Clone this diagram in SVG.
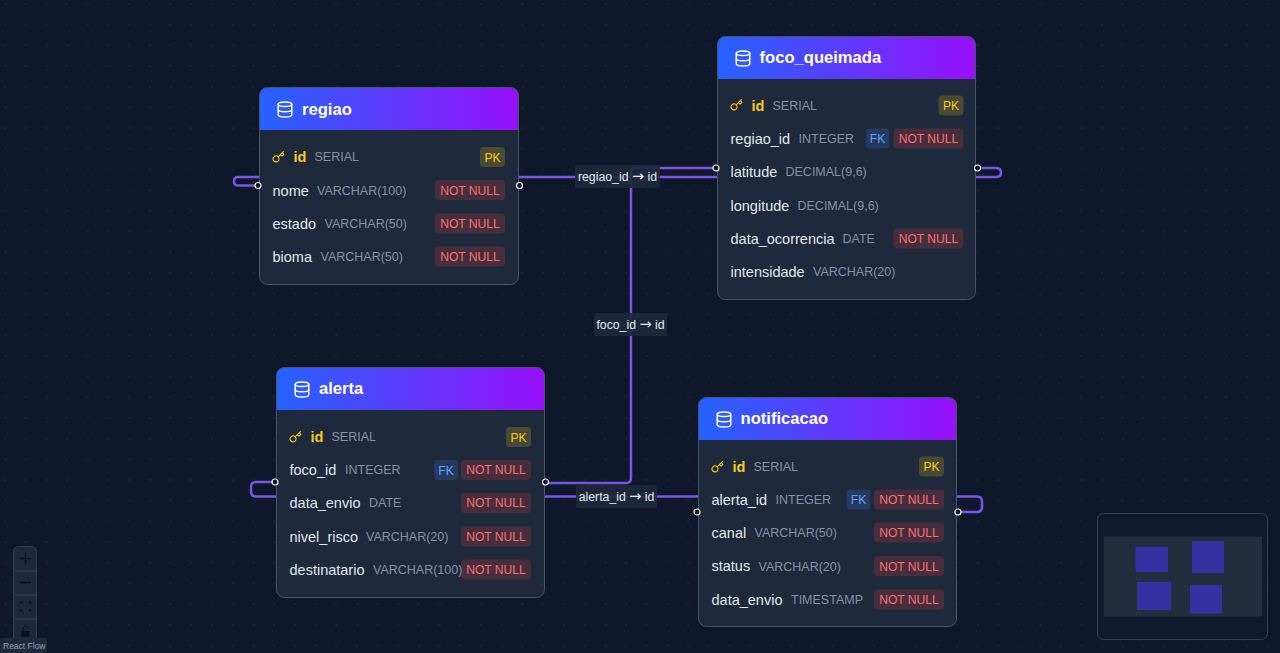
<svg xmlns="http://www.w3.org/2000/svg" width="1280" height="653" viewBox="0 0 1280 653">
<style>
text{font-family:"Liberation Sans",Arial,sans-serif}
.card{fill:#1e293b}
.edge{fill:none;stroke:#475569;stroke-width:1}
.title{font-size:16.6px;font-weight:700;fill:#fff}
.n{font-size:14.5px;fill:#e2e8f0}
.k{font-size:14.5px;font-weight:700;fill:#facc15}
.t{font-size:12.5px;fill:#8593a8}
.b{font-size:12.1px;text-anchor:middle}
.pk{fill:#facc15;fill-opacity:.2}.pkt{fill:#facc15}
.nn{fill:#ef4444;fill-opacity:.2}.nnt{fill:#f87171}
.fk{fill:#3b82f6;fill-opacity:.2}.fkt{fill:#60a5fa}
.e{fill:none;stroke:#7a55e6;stroke-width:2.5}
.h{fill:#0f172a;stroke:#fff;stroke-width:1.2}
.lb{fill:#1e293b;fill-opacity:.9}
.lt{font-size:12.3px;fill:#e2e8f0;text-anchor:middle}
.ar{font-family:"DejaVu Sans",sans-serif;font-size:14.5px}
.ic{fill:none;stroke-linecap:round;stroke-linejoin:round;stroke-width:2}
</style>
<defs>
<linearGradient id="hd" x1="0" x2="1" y1="0" y2="0"><stop offset="0" stop-color="#2563ff"/><stop offset="1" stop-color="#9810fa"/></linearGradient>
<pattern id="dots" width="20.7" height="20.7" patternUnits="userSpaceOnUse"><circle cx="5" cy="4" r=".7" fill="#2a3547"/></pattern>
<symbol id="db" viewBox="0 0 24 24"><ellipse cx="12" cy="5" rx="9" ry="3"/><path d="M3 5V19A9 3 0 0 0 21 19V5"/><path d="M3 12A9 3 0 0 0 21 12"/></symbol>
<symbol id="key" viewBox="0 0 24 24"><path d="m21 2-2 2m-7.610 7.610a5.500 5.500 0 1 1-7.778 7.778 5.500 5.500 0 0 1 7.777-7.777zm0 0L15.500 7.500m0 0 3 3L22 7l-3-3m-3.500 3.500L19 4"/></symbol>
</defs>
<rect width="1280" height="653" fill="#0f172a"/>
<rect width="1280" height="653" fill="url(#dots)"/>
<g id="connectors">
<path class="e" d="M258 185.500H238Q234 185.500 234 181.500Q234 177 238 177H718"/>
<path class="e" d="M545 483H626Q631 483 631 478V173Q631 168 636 168H716"/>
<path class="e" d="M977 168H996Q1001 168 1001 172.500Q1001 177 996 177H976"/>
<path class="e" d="M275 482H256Q251 482 251 487V491.500Q251 496.500 256 496.500H276"/>
<path class="e" d="M545 496.500H698"/>
<path class="e" d="M958 512H977Q982 512 982 507V501.500Q982 496.500 977 496.500H957"/>
<rect class="lb" x="575" y="165" width="85" height="23" rx="2"/>
<text class="lt" x="617.500" y="180.500">regiao_id <tspan class="ar">→</tspan> id</text>
<rect class="lb" x="594" y="313" width="73" height="23" rx="2"/>
<text class="lt" x="630.500" y="328.500">foco_id <tspan class="ar">→</tspan> id</text>
<rect class="lb" x="576" y="485" width="81" height="23" rx="2"/>
<text class="lt" x="616.500" y="500.500">alerta_id <tspan class="ar">→</tspan> id</text>
</g>
<g id="regiao" transform="translate(259.500 87.500)">
<rect class="card" width="259" height="197" rx="8"/>
<path fill="url(#hd)" d="M8 0H251A8 8 0 0 1 259 8V42.500H0V8A8 8 0 0 1 8 0Z"/>
<rect class="edge" width="259" height="197" rx="8"/>
<use href="#db" x="16.500" y="13" width="18" height="18" class="ic" stroke="#fff"/>
<text class="title" x="42.500" y="27">regiao</text>
<use href="#key" x="12.500" y="63" width="13" height="13" class="ic" stroke="#facc15"/>
<text class="k" x="34" y="74.500">id</text><text class="t" x="55" y="73.500">SERIAL</text>
<rect class="pk" x="220.500" y="59.500" width="25" height="20" rx="4"/><text class="b pkt" x="233" y="74">PK</text>
<text class="n" x="13" y="108">nome</text><text class="t" x="57.500" y="107.500">VARCHAR(100)</text>
<rect class="nn" x="175.500" y="92.500" width="70" height="20" rx="4"/><text class="b nnt" x="210.500" y="107">NOT NULL</text>
<text class="n" x="13" y="141">estado</text><text class="t" x="65" y="140.500">VARCHAR(50)</text>
<rect class="nn" x="175.500" y="126" width="70" height="20" rx="4"/><text class="b nnt" x="210.500" y="140.500">NOT NULL</text>
<text class="n" x="13" y="174.500">bioma</text><text class="t" x="61" y="173.500">VARCHAR(50)</text>
<rect class="nn" x="175.500" y="159" width="70" height="20" rx="4"/><text class="b nnt" x="210.500" y="173.500">NOT NULL</text>
<circle class="h" cx="-1.500" cy="98" r="3"/><circle class="h" cx="260" cy="98" r="3"/>
</g>
<g id="foco_queimada" transform="translate(717.500 36.500)">
<rect class="card" width="258" height="263" rx="8"/>
<path fill="url(#hd)" d="M8 0H250A8 8 0 0 1 258 8V42.500H0V8A8 8 0 0 1 8 0Z"/>
<rect class="edge" width="258" height="263" rx="8"/>
<use href="#db" x="16.500" y="13" width="18" height="18" class="ic" stroke="#fff"/>
<text class="title" x="42" y="26.500">foco_queimada</text>
<use href="#key" x="12.500" y="62" width="13" height="13" class="ic" stroke="#facc15"/>
<text class="k" x="34" y="74">id</text><text class="t" x="55" y="73">SERIAL</text>
<rect class="pk" x="221" y="59" width="25" height="20" rx="4"/><text class="b pkt" x="233.500" y="73.500">PK</text>
<text class="n" x="13" y="107.500">regiao_id</text><text class="t" x="81" y="106.500">INTEGER</text>
<rect class="fk" x="148" y="92" width="24" height="20" rx="4"/><text class="b fkt" x="160" y="106.500">FK</text>
<rect class="nn" x="176" y="92" width="70" height="20" rx="4"/><text class="b nnt" x="211" y="106.500">NOT NULL</text>
<text class="n" x="13" y="140.500">latitude</text><text class="t" x="68" y="139.500">DECIMAL(9,6)</text>
<text class="n" x="13" y="174">longitude</text><text class="t" x="80" y="173">DECIMAL(9,6)</text>
<text class="n" x="13" y="207.500">data_ocorrencia</text><text class="t" x="125" y="206.500">DATE</text>
<rect class="nn" x="176" y="192" width="70" height="20" rx="4"/><text class="b nnt" x="211" y="206.500">NOT NULL</text>
<text class="n" x="13" y="240.500">intensidade</text><text class="t" x="95.500" y="239.500">VARCHAR(20)</text>
<circle class="h" cx="-1.500" cy="131.500" r="3"/><circle class="h" cx="260" cy="131.500" r="3"/>
</g>
<g id="alerta" transform="translate(276.500 367.500)">
<rect class="card" width="268" height="230" rx="8"/>
<path fill="url(#hd)" d="M8 0H260A8 8 0 0 1 268 8V42.500H0V8A8 8 0 0 1 8 0Z"/>
<rect class="edge" width="268" height="230" rx="8"/>
<use href="#db" x="16.500" y="13" width="18" height="18" class="ic" stroke="#fff"/>
<text class="title" x="42.500" y="26.500">alerta</text>
<use href="#key" x="12.500" y="63" width="13" height="13" class="ic" stroke="#facc15"/>
<text class="k" x="34" y="74.500">id</text><text class="t" x="55" y="73.500">SERIAL</text>
<rect class="pk" x="229.500" y="59.500" width="25" height="20" rx="4"/><text class="b pkt" x="242" y="74">PK</text>
<text class="n" x="13" y="107.500">foco_id</text><text class="t" x="68.500" y="106.500">INTEGER</text>
<rect class="fk" x="157.500" y="92.500" width="24" height="20" rx="4"/><text class="b fkt" x="169.500" y="107">FK</text>
<rect class="nn" x="184.500" y="92.500" width="70" height="20" rx="4"/><text class="b nnt" x="219.500" y="106.500">NOT NULL</text>
<text class="n" x="13" y="140.500">data_envio</text><text class="t" x="92.500" y="139.500">DATE</text>
<rect class="nn" x="184.500" y="125.500" width="70" height="20" rx="4"/><text class="b nnt" x="219.500" y="139.500">NOT NULL</text>
<text class="n" x="13" y="174">nivel_risco</text><text class="t" x="89.500" y="173">VARCHAR(20)</text>
<rect class="nn" x="184.500" y="159" width="70" height="20" rx="4"/><text class="b nnt" x="219.500" y="173.500">NOT NULL</text>
<text class="n" x="13" y="207">destinatario</text><text class="t" x="96.500" y="206.500">VARCHAR(100)</text>
<rect class="nn" x="184.500" y="192" width="70" height="20" rx="4"/><text class="b nnt" x="219.500" y="206.500">NOT NULL</text>
<circle class="h" cx="-1.500" cy="114.500" r="3"/><circle class="h" cx="269" cy="114.500" r="3"/>
</g>
<g id="notificacao" transform="translate(698.500 397.500)">
<rect class="card" width="258" height="229" rx="8"/>
<path fill="url(#hd)" d="M8 0H250A8 8 0 0 1 258 8V42.500H0V8A8 8 0 0 1 8 0Z"/>
<rect class="edge" width="258" height="229" rx="8"/>
<use href="#db" x="16.500" y="13" width="18" height="18" class="ic" stroke="#fff"/>
<text class="title" x="42" y="26.500">notificacao</text>
<use href="#key" x="12.500" y="63" width="13" height="13" class="ic" stroke="#facc15"/>
<text class="k" x="34" y="74.500">id</text><text class="t" x="55" y="73.500">SERIAL</text>
<rect class="pk" x="220.500" y="59" width="25" height="20" rx="4"/><text class="b pkt" x="233" y="73.500">PK</text>
<text class="n" x="13" y="107">alerta_id</text><text class="t" x="77" y="106">INTEGER</text>
<rect class="fk" x="148" y="92" width="24" height="20" rx="4"/><text class="b fkt" x="160" y="106.500">FK</text>
<rect class="nn" x="175.500" y="92" width="70" height="20" rx="4"/><text class="b nnt" x="210.500" y="106.500">NOT NULL</text>
<text class="n" x="13" y="140.500">canal</text><text class="t" x="56" y="139.500">VARCHAR(50)</text>
<rect class="nn" x="175.500" y="125" width="70" height="20" rx="4"/><text class="b nnt" x="210.500" y="139.500">NOT NULL</text>
<text class="n" x="13" y="173.500">status</text><text class="t" x="60" y="173">VARCHAR(20)</text>
<rect class="nn" x="175.500" y="158.500" width="70" height="20" rx="4"/><text class="b nnt" x="210.500" y="173">NOT NULL</text>
<text class="n" x="13" y="207">data_envio</text><text class="t" x="92.500" y="206">TIMESTAMP</text>
<rect class="nn" x="175.500" y="192" width="70" height="20" rx="4"/><text class="b nnt" x="210.500" y="206">NOT NULL</text>
<circle class="h" cx="-1.500" cy="114.500" r="3"/><circle class="h" cx="259.500" cy="114.500" r="3"/>
</g>
<g id="controls">
<rect x="13.500" y="546.500" width="23" height="100" rx="5" fill="#1e293b" stroke="#334155"/>
<path d="M14 571H36M14 595H36M14 619H36" stroke="#334155" fill="none"/>
<path d="M20 558.500H31M25.500 553V564" stroke="#0b1120" stroke-width="1.600" fill="none"/>
<path d="M20 582.500H31" stroke="#0b1120" stroke-width="1.600" fill="none"/>
<path d="M20.500 604V602H22.500M28.500 602H30.500V604M30.500 609V611H28.500M22.500 611H20.500V609" stroke="#0b1120" stroke-width="1.200" fill="none"/>
<path d="M21.500 631H29.500V637H21.500Z" fill="#0b1120"/>
<path d="M23 631V628.500A2.500 2.500 0 0 1 28 628.500" stroke="#0b1120" fill="none"/>
<rect x="0" y="638" width="47" height="15" rx="2" fill="#1e293b"/>
<text x="3" y="649" font-size="8.500" fill="#94a3b8">React Flow</text>
</g>
<g id="minimap">
<rect x="1097.500" y="513.500" width="170" height="126" rx="6" fill="#111a2c" stroke="#334155"/>
<rect x="1104" y="536.500" width="158" height="80" fill="#222d3d"/>
<g fill="#3730a3"><rect x="1135.500" y="547" width="32.500" height="25"/><rect x="1192" y="541" width="32" height="32"/><rect x="1137" y="582" width="34" height="28"/><rect x="1190" y="585" width="32" height="28.500"/></g>
</g>
</svg>
